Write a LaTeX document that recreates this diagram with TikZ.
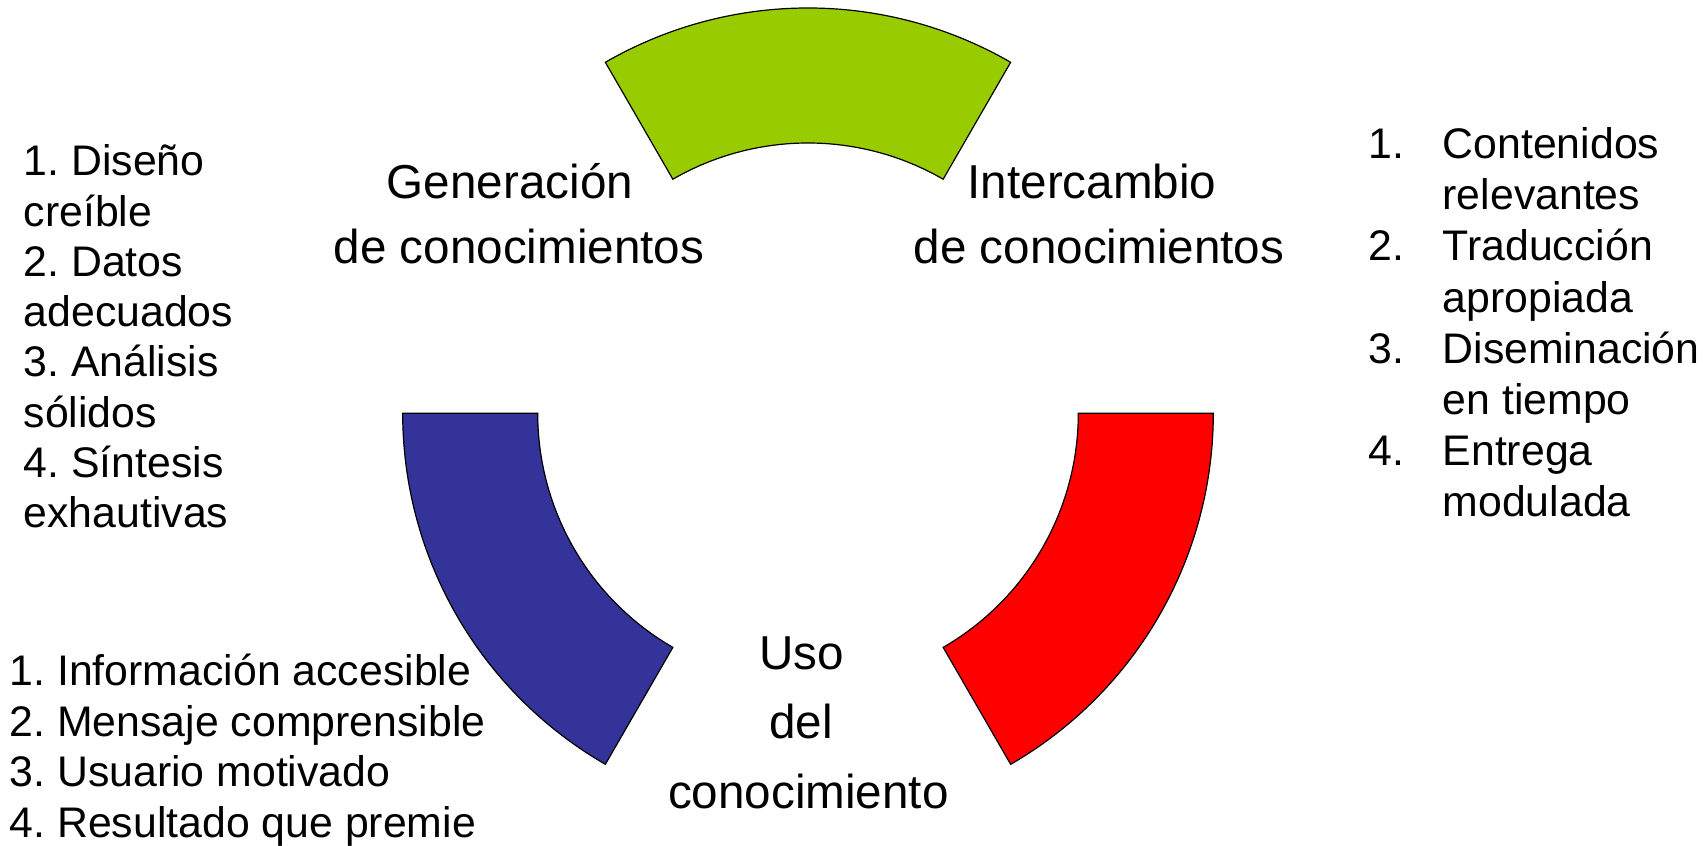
\documentclass[tikz,border=0pt]{standalone}
\usepackage{fontspec}
\setmainfont{Liberation Sans}
\frenchspacing
\definecolor{gengreen}{HTML}{99CC00}
\definecolor{useblue}{HTML}{333399}
\definecolor{xchred}{HTML}{FF0000}
\begin{document}
\begin{tikzpicture}[x=1pt,y=1pt,
  sector/.style={draw=black, line width=1.2pt, line join=miter},
  listtxt/.style={font=\fontsize{42.8}{51}\selectfont\frenchspacing, inner sep=0pt, anchor=base west},
  titletxt/.style={font=\fontsize{47.6}{57}\selectfont, inner sep=0pt, anchor=base}]
\useasboundingbox[fill=white] (0,0) rectangle (1703,846);
\coordinate (C) at (808,432.7);
\def\Ro{405.3}
\def\Ri{270.3}
% sectors
\draw[sector, fill=gengreen] ([shift={(60:\Ro)}]C) coordinate (g1)
  arc[start angle=60, end angle=120, radius=\Ro]
  -- ([shift={(120:\Ri)}]C) arc[start angle=120, end angle=60, radius=\Ri] -- cycle;
\draw[sector, fill=useblue] ([shift={(180:\Ro)}]C) coordinate (b1)
  arc[start angle=180, end angle=240, radius=\Ro]
  -- ([shift={(240:\Ri)}]C) arc[start angle=240, end angle=180, radius=\Ri] -- cycle;
\draw[sector, fill=xchred] ([shift={(300:\Ro)}]C) coordinate (r1)
  arc[start angle=300, end angle=360, radius=\Ro]
  -- ([shift={(360:\Ri)}]C) arc[start angle=360, end angle=300, radius=\Ri] -- cycle;
% titles
\node[titletxt] (gen1) at (510,{846-199}) {Generación};
\node[titletxt] (gen2) at (519,{846-263.5}) {de conocimientos};
\node[titletxt] (int1) at (1092,{846-199}) {Intercambio};
\node[titletxt] (int2) at (1099,{846-263.5}) {de conocimientos};
\node[titletxt] (uso1) at (801.7,{846-669.3}) {Uso};
\node[titletxt] (uso2) at (801,{846-738.6}) {del};
\node[titletxt] (uso3) at (808.3,{846-808.5}) {conocimiento};
% left list
\foreach \t [count=\i] in {1. Diseño, creíble, 2. Datos, adecuados, 3. Análisis, sólidos, 4. Síntesis, exhautivas}
  \node[listtxt] (gl\i) at (23.5,{846-176-50.25*(\i-1)}) {\t};
% bottom list
\foreach \t [count=\i] in {1. Información accesible, 2. Mensaje comprensible, 3. Usuario motivado, 4. Resultado que premie}
  \node[listtxt] (ul\i) at (9.5,{846-686-50.5*(\i-1)}) {\t};
% right list
\foreach \n/\a/\b [count=\i] in {1./Contenidos/relevantes, 2./Traducción/apropiada, 3./Diseminación/en tiempo, 4./Entrega/modulada} {
  \node[listtxt] (in\i) at (1368.5,{846-158.5-102.4*(\i-1)}) {\n};
  \node[listtxt] (ia\i) at (1442.5,{846-158.5-102.4*(\i-1)}) {\a};
  \node[listtxt] (ib\i) at (1442.5,{846-158.5-102.4*(\i-1)-51.2}) {\b};
}
\end{tikzpicture}
\end{document}
